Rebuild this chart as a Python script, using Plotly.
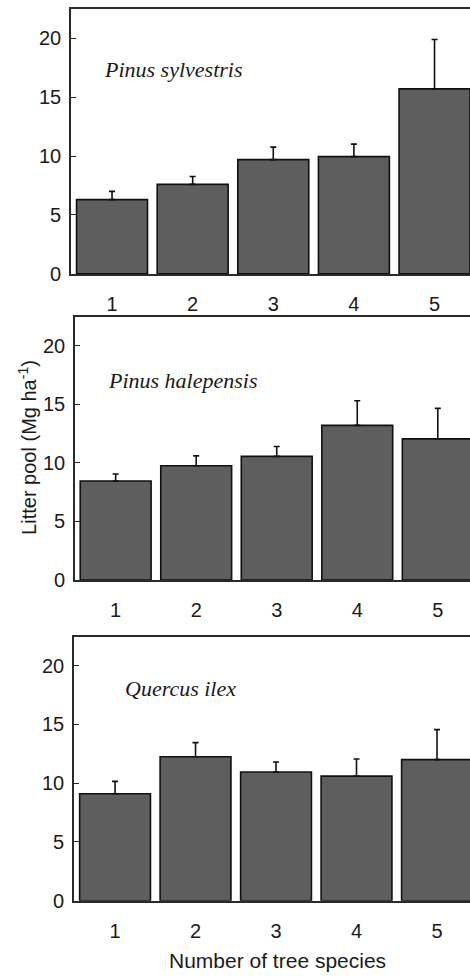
import plotly.graph_objects as go

categories = [1, 2, 3, 4, 5]
tick_labels = ["1", "2", "3", "4", "5"]
y_ticks = [0, 5, 10, 15, 20]

species = ["Pinus sylvestris", "Pinus halepensis", "Quercus ilex"]
sylvestris_mean = [6.3, 7.6, 9.7, 9.95, 15.7]
sylvestris_err = [0.7, 0.67, 1.06, 1.06, 4.2]
halepensis_mean = [8.45, 9.75, 10.55, 13.2, 12.05]
halepensis_err = [0.6, 0.85, 0.85, 2.1, 2.6]
ilex_mean = [9.1, 12.25, 10.95, 10.6, 12.0]
ilex_err = [1.05, 1.2, 0.85, 1.45, 2.55]

means = [sylvestris_mean, halepensis_mean, ilex_mean]
errs = [sylvestris_err, halepensis_err, ilex_err]

W, H = 470, 980
# panel pixel geometry (left axis x, top y, bottom/zero y)
panels = [
    dict(left=71, top=9.5, bottom=277, xr=[0.491, 5.44], lab=(102, 70)),
    dict(left=75, top=320.5, bottom=586.7, xr=[0.495, 5.40], lab=(106, 385)),
    dict(left=74, top=644, bottom=911, xr=[0.49, 5.41], lab=(123, 696)),
]

fig = go.Figure()
axis_color = "#2a2a2a"
font_main = "Liberation Sans, Arial, sans-serif"

for i, p in enumerate(panels):
    n = "" if i == 0 else str(i + 1)
    fig.add_trace(go.Bar(
        x=categories, y=means[i], width=0.88,
        marker=dict(color="#5e5e5e", line=dict(color="#111111", width=1.6)),
        error_y=dict(type="data", array=errs[i], arrayminus=[0] * 5, symmetric=False,
                     color="#111111", thickness=1.6, width=3),
        xaxis="x" + n, yaxis="y" + n, showlegend=False,
    ))
    fig.update_layout(**{
        "xaxis" + n: dict(
            domain=[p["left"] / W, 1], range=p["xr"], anchor="y" + n,
            tickvals=categories, ticktext=tick_labels, ticks="",
            showline=True, mirror=True, linecolor=axis_color, linewidth=1.6,
            showgrid=False, zeroline=False, ticklabelstandoff=11,
            tickfont=dict(family=font_main, size=20, color="#1a1a1a"),
        ),
        "yaxis" + n: dict(
            domain=[1 - p["bottom"] / H, 1 - p["top"] / H], range=[0, 22.45],
            anchor="x" + n, tickvals=y_ticks, ticks="inside", ticklen=5,
            tickcolor=axis_color, tickwidth=1.4,
            showline=True, mirror=False, linecolor=axis_color, linewidth=1.6,
            showgrid=False, zeroline=False, ticklabelstandoff=4,
            tickfont=dict(family=font_main, size=20, color="#1a1a1a"),
        ),
    })
    fig.add_annotation(
        x=p["lab"][0] / W, y=1 - p["lab"][1] / H, xref="paper", yref="paper",
        xanchor="left", yanchor="middle", showarrow=False,
        text="<i>" + species[i] + "</i>",
        font=dict(family="Liberation Serif, Times New Roman, serif", size=22, color="#1a1a1a"),
    )

fig.add_annotation(
    x=28 / W, y=1 - 453 / H, xref="paper", yref="paper", textangle=-90,
    xanchor="center", yanchor="middle", showarrow=False,
    text="Litter pool (Mg ha<sup>-1</sup>)",
    font=dict(family=font_main, size=20, color="#1a1a1a"),
)
fig.add_annotation(
    x=277 / W, y=1 - 971 / H, xref="paper", yref="paper",
    xanchor="center", yanchor="middle", showarrow=False,
    text="Number of tree species",
    font=dict(family=font_main, size=21, color="#1a1a1a"),
)

fig.update_layout(
    width=W, height=H, margin=dict(l=0, r=0, t=0, b=0),
    paper_bgcolor="white", plot_bgcolor="white", bargap=0.12,
)

fig.write_html("out.html")
